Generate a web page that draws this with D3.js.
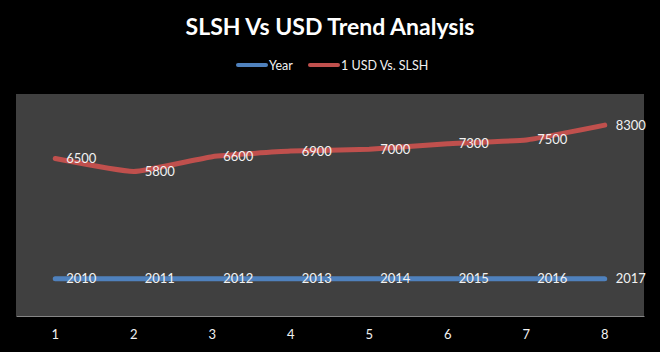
<!DOCTYPE html>
<html>
<head>
<meta charset="utf-8">
<script src="https://cdnjs.cloudflare.com/ajax/libs/d3/7.8.5/d3.min.js"></script>
<style>
  body { margin: 0; background: #000; }
  svg { display: block; font-family: Lato, "Noto Sans", sans-serif; }
</style>
</head>
<body>
<svg width="660" height="352"></svg>
<script>
// data
const categories = [1, 2, 3, 4, 5, 6, 7, 8];
const years = [2010, 2011, 2012, 2013, 2014, 2015, 2016, 2017];
const slsh = [6500, 5800, 6600, 6900, 7000, 7300, 7500, 8300];
const seriesNames = ["Year", "1 USD Vs. SLSH"];
const seriesColors = ["#4f81bd", "#c0504d"];

const svg = d3.select("svg");
const width = +svg.attr("width");
const height = +svg.attr("height");

// plot area
const plot = { left: 16, right: 644, top: 94, bottom: 316 };

// stacked line chart (values of the second series sit on top of the first)
const rows = categories.map((c, i) => ({ cat: c, Year: years[i], SLSH: slsh[i] }));
const stack = d3.stack().keys(["Year", "SLSH"]);
const stacked = stack(rows);

const x = d3.scaleBand()
  .domain(categories)
  .range([plot.left, plot.right]);

const y = d3.scaleLinear()
  .domain([0, 12000])
  .range([plot.bottom, plot.top]);

const cx = (c) => x(c) + x.bandwidth() / 2;

// background
svg.append("rect")
  .attr("width", width)
  .attr("height", height)
  .attr("fill", "#000");

svg.append("rect")
  .attr("x", plot.left)
  .attr("y", plot.top)
  .attr("width", plot.right - plot.left)
  .attr("height", plot.bottom - plot.top)
  .attr("fill", "#404040");

// title
svg.append("text")
  .attr("x", width / 2)
  .attr("y", 35)
  .attr("text-anchor", "middle")
  .attr("fill", "#fff")
  .attr("font-size", 23)
  .attr("font-weight", "bold")
  .text("SLSH Vs USD Trend Analysis");

// legend
const legendItems = [
  { name: seriesNames[0], color: seriesColors[0], x: 237 },
  { name: seriesNames[1], color: seriesColors[1], x: 309 }
];
const legend = svg.append("g").selectAll("g")
  .data(legendItems)
  .enter().append("g")
    .attr("transform", (d) => `translate(${d.x},65)`);

legend.append("line")
  .attr("x1", 1)
  .attr("x2", 29)
  .attr("stroke", (d) => d.color)
  .attr("stroke-width", 4)
  .attr("stroke-linecap", "round");

legend.append("text")
  .attr("x", 32)
  .attr("y", 4.5)
  .attr("fill", "#f2f2f2")
  .attr("font-size", 12.5)
  .text((d) => d.name);

// x axis
const xAxis = svg.append("g")
  .attr("transform", `translate(0,${plot.bottom})`)
  .call(d3.axisBottom(x).tickSize(0).tickPadding(14));

xAxis.select(".domain").attr("stroke", "#868686");
xAxis.selectAll("text")
  .attr("fill", "#f2f2f2")
  .attr("font-size", 13)
  .attr("font-family", "Lato, sans-serif");

// lines
const line = d3.line()
  .x((d) => cx(d.data.cat))
  .y((d) => y(d[1]))
  .curve(d3.curveCardinal.tension(0.6));

svg.append("g").selectAll("path")
  .data(stacked)
  .enter().append("path")
    .attr("d", line)
    .attr("fill", "none")
    .attr("stroke", (d, i) => seriesColors[i])
    .attr("stroke-width", 5)
    .attr("stroke-linecap", "round")
    .attr("stroke-linejoin", "round");

// data labels (show the series' own value, to the right of each point)
const labelData = [];
stacked.forEach((s, si) => {
  s.forEach((d, i) => {
    labelData.push({ cat: d.data.cat, top: d[1], value: si === 0 ? years[i] : slsh[i] });
  });
});

svg.append("g").selectAll("text")
  .data(labelData)
  .enter().append("text")
    .attr("x", (d) => cx(d.cat) + 11)
    .attr("y", (d) => y(d.top) + 4.5)
    .attr("fill", "#f2f2f2")
    .attr("font-size", 13)
    .text((d) => d.value);
</script>
</body>
</html>
